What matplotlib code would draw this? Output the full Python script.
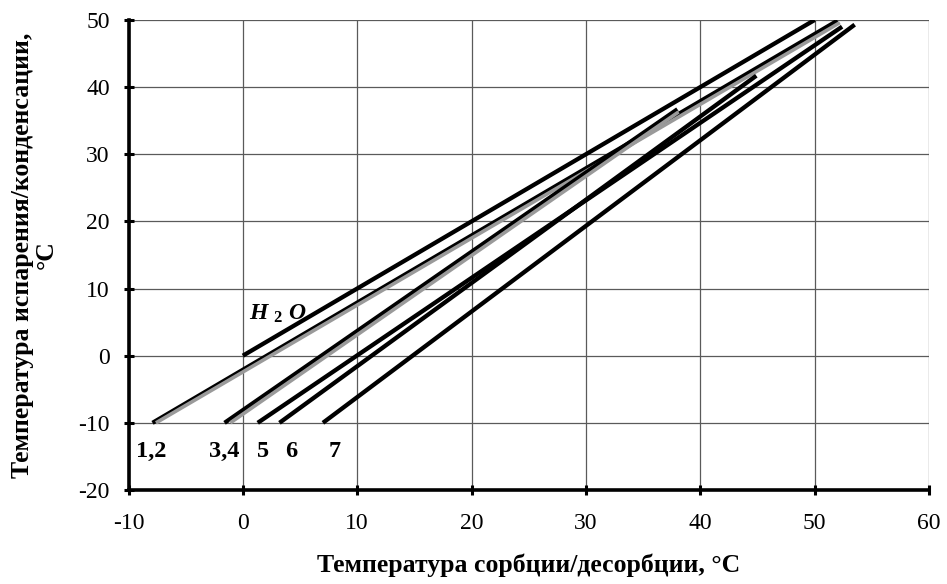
import matplotlib
matplotlib.use("Agg")
import matplotlib.pyplot as plt

plt.rcParams['font.family'] = ['Liberation Serif', 'DejaVu Serif']
plt.rcParams['mathtext.fontset'] = 'custom'
plt.rcParams['mathtext.it'] = 'Liberation Serif:italic:bold'
plt.rcParams['mathtext.rm'] = 'Liberation Serif:bold'
plt.rcParams['axes.unicode_minus'] = False

# Line endpoints (sorption temperature, evaporation temperature)
h2o_x = [0, 50]
h2o_y = [0, 50]
line1_x = [-7.9, 52.0]
line1_y = [-10, 49.9]
line2_x = [-7.6, 52.2]
line2_y = [-10, 49.6]
line3_x = [-1.6, 38.0]
line3_y = [-10, 36.7]
line4_x = [-1.1, 38.1]
line4_y = [-10, 36.3]
line5_x = [1.3, 52.4]
line5_y = [-10, 49.0]
line6_x = [3.2, 44.9]
line6_y = [-10, 41.7]
line7_x = [7.0, 53.5]
line7_y = [-10, 49.3]

labels = ["1,2", "3,4", "5", "6", "7"]
label_x = [-8.0, -1.6, 1.8, 4.2, 8.0]
label_y = [-14.3, -14.3, -14.3, -14.3, -14.3]

xticks = list(range(-10, 61, 10))
yticks = list(range(-20, 51, 10))

fig = plt.figure(figsize=(9.47, 5.84), dpi=100)
ax = fig.add_axes([0.1357, 0.161, 0.981 - 0.1357, 0.9658 - 0.161])
ax.set_xlim(-10, 60)
ax.set_ylim(-20, 50)
ax.set_xticks(xticks)
ax.set_yticks(yticks)
ax.grid(True, color='#5a5a5a', lw=0.9)
ax.set_axisbelow(True)

for s in ['top', 'right']:
    ax.spines[s].set_visible(False)
for s in ['left', 'bottom']:
    ax.spines[s].set_linewidth(2.6)
    ax.spines[s].set_color('black')

ax.tick_params(direction='inout', length=7, width=2.2, labelsize=17)
ax.tick_params(axis='x', pad=13)
ax.tick_params(axis='y', pad=10)

black_lw = 3.1
gray = '#9a9a9a'
ax.plot(h2o_x, h2o_y, color='black', lw=black_lw, solid_capstyle='butt')
ax.plot(line1_x, line1_y, color='black', lw=black_lw, solid_capstyle='butt')
ax.plot(line2_x, line2_y, color=gray, lw=2.6, solid_capstyle='butt')
ax.plot(line3_x, line3_y, color='black', lw=black_lw, solid_capstyle='butt')
ax.plot(line4_x, line4_y, color=gray, lw=2.6, solid_capstyle='butt')
ax.plot(line5_x, line5_y, color='black', lw=black_lw, solid_capstyle='butt')
ax.plot(line6_x, line6_y, color='black', lw=black_lw, solid_capstyle='butt')
ax.plot(line7_x, line7_y, color='black', lw=black_lw, solid_capstyle='butt')

for t, x, y in zip(labels, label_x, label_y):
    ax.text(x, y, t, fontsize=17.5, fontweight='bold', ha='center', va='center')

ax.text(0.5, 5.4, r'$H\ _2\ O$', fontsize=17, ha='left', va='baseline')

ax.set_xlabel('Температура сорбции/десорбции, °C', fontsize=18.5,
              fontweight='bold', labelpad=14)
ax.set_ylabel('Температура испарения/конденсации,\n°C', fontsize=18.5,
              fontweight='bold', linespacing=1.0)
ax.yaxis.set_label_coords(-0.089, 0.5)

fig.savefig('out.png', dpi=100)
